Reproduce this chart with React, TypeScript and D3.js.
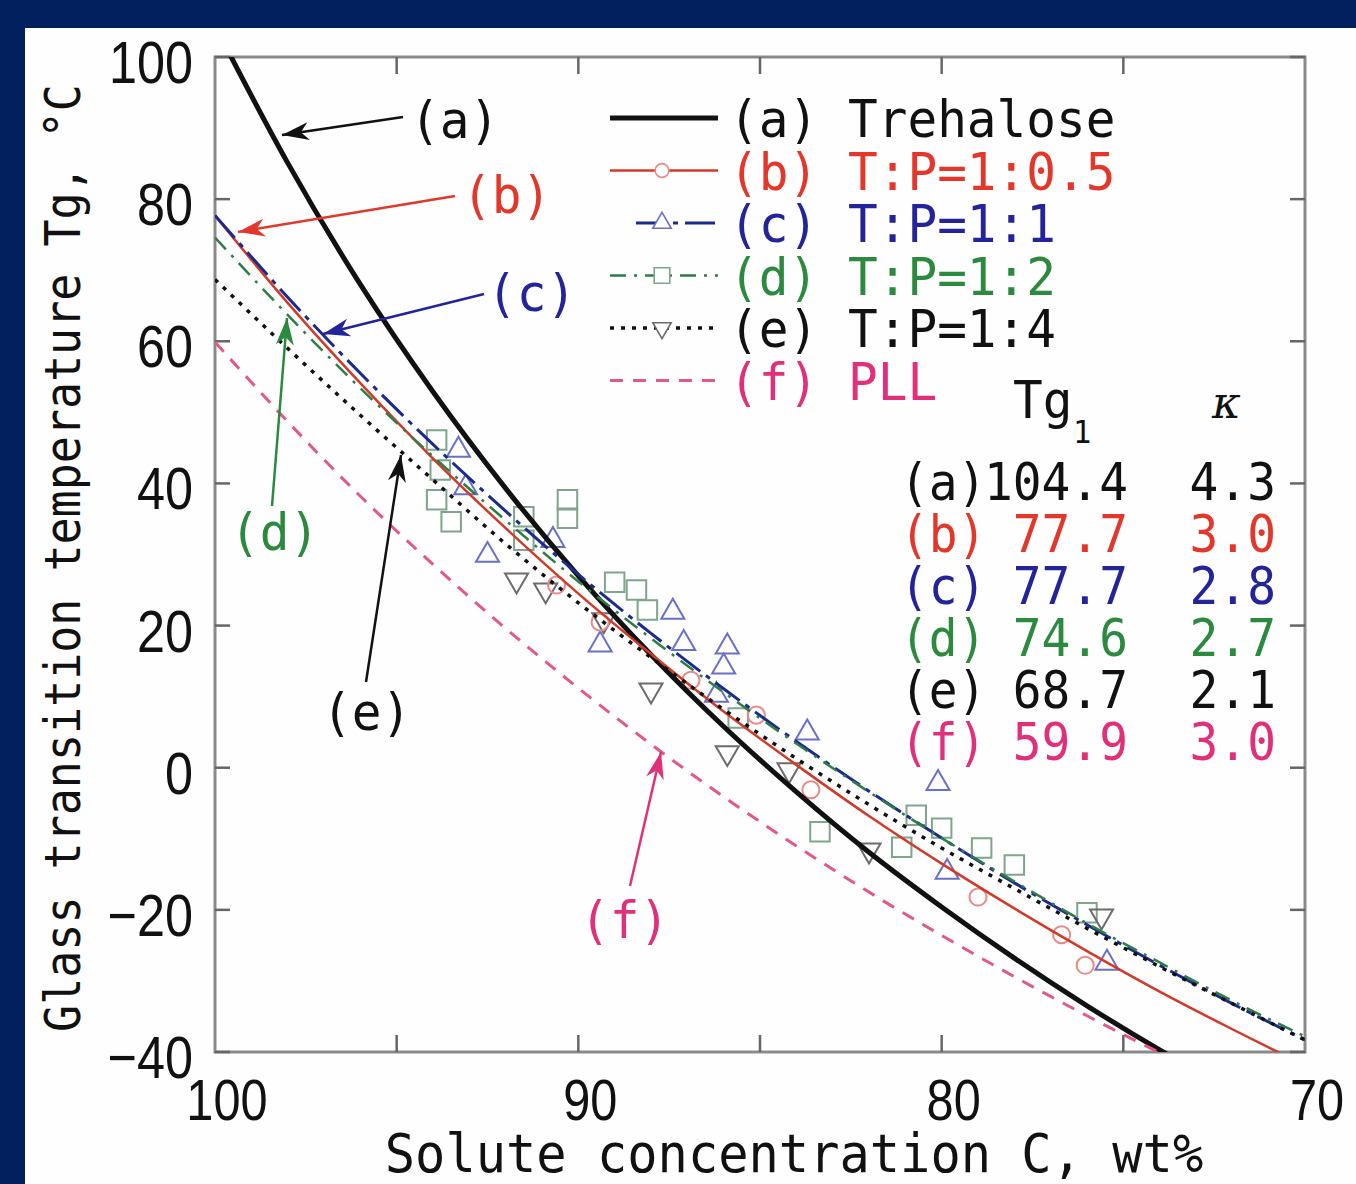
import React from 'react';
import * as d3 from 'd3';

// curve values (wt% solute -> Tg in °C)
const concentration = [100, 98, 96, 94, 92, 90, 88, 86, 84, 82, 80, 78, 76, 74, 72, 70];
const tgTrehalose = [104.4, 85.1, 68.0, 52.9, 39.3, 27.0, 15.9, 5.8, -3.4, -11.9, -19.6, -26.8, -33.5, -39.7, -45.4, -50.8];
const tgTP05 = [77.7, 65.4, 54.1, 43.5, 33.7, 24.5, 16.0, 7.9, 0.4, -6.8, -13.5, -19.8, -25.8, -31.5, -36.8, -41.9];
const tgTP1 = [77.7, 66.2, 55.5, 45.5, 36.1, 27.2, 18.9, 11.1, 3.7, -3.3, -9.9, -16.2, -22.1, -27.8, -33.2, -38.3];
const tgTP2 = [74.6, 63.7, 53.4, 43.8, 34.8, 26.2, 18.2, 10.6, 3.4, -3.4, -9.9, -16.0, -21.9, -27.4, -32.8, -37.8];
const tgTP4 = [68.7, 59.0, 49.6, 40.5, 31.5, 23.2, 15.5, 8.2, 1.3, -5.2, -11.3, -17.0, -22.6, -28.0, -33.2, -38.3];
const tgPLL = [59.9, 48.7, 38.2, 28.6, 19.6, 11.2, 3.3, -4.1, -11.0, -17.5, -23.6, -29.4, -34.9, -40.1, -45.0, -49.7];

// measured points [C, Tg]
const pointsTP05 = [[90.6, 25.7], [89.4, 20.5], [86.9, 12.3], [85.1, 7.4], [83.6, -3.1], [79.0, -18.2], [76.7, -23.5], [76.05, -27.8]];
const pointsTP1 = [[93.3, 44.7], [93.1, 39.4], [92.5, 29.9], [90.7, 32.0], [89.4, 17.3], [87.4, 21.9], [87.1, 17.5], [85.9, 17.0], [86.0, 14.2], [86.2, 10.2], [83.7, 4.9], [80.1, -2.2], [79.85, -14.7], [75.45, -27.5]];
const pointsTP2 = [[93.9, 46.1], [93.8, 41.9], [93.9, 37.7], [93.5, 34.6], [91.5, 35.3], [91.5, 32.0], [90.3, 37.7], [90.3, 35.1], [89.0, 26.1], [88.4, 25.0], [88.1, 22.2], [85.6, 7.0], [83.35, -9.0], [81.1, -11.2], [80.7, -6.7], [80.0, -8.5], [78.9, -11.3], [78.0, -13.7], [76.0, -20.4]];
const pointsTP4 = [[91.7, 26.4], [90.9, 25.0], [89.3, 20.8], [88.0, 10.9], [85.9, 2.1], [84.2, -0.3], [82.0, -11.6], [75.6, -20.9]];

const xTickLabels = [100, 90, 80, 70];
const xTickMarks = [95, 90, 85, 80, 75];
const yTickLabels = [100, 80, 60, 40, 20, 0, -20, -40];

const legendLabels = ['(a) Trehalose', '(b) T:P=1:0.5', '(c) T:P=1:1', '(d) T:P=1:2', '(e) T:P=1:4', '(f) PLL'];
const tableTg1 = ['104.4', '77.7', '77.7', '74.6', '68.7', '59.9'];
const tableKappa = ['4.3', '3.0', '2.8', '2.7', '2.1', '3.0'];

const W = 1356;
const H = 1184;
const plot = { left: 215, right: 1305, top: 57, bottom: 1052 };
const MONO = "'DejaVu Sans Mono', 'Liberation Mono', monospace";
const SANS = "'Liberation Sans', Arial, sans-serif";

const styles = [
  { color: '#111111', text: '#111111', width: 5, dash: null },
  { color: '#d23a28', text: '#e2372a', width: 2.5, dash: null },
  { color: '#1c2a8c', text: '#23249a', width: 3, dash: '30 7 5 7' },
  { color: '#2e7d46', text: '#2b8a3e', width: 2.5, dash: '16 8 3 8' },
  { color: '#111111', text: '#111111', width: 3.5, dash: '4 7' },
  { color: '#e2578c', text: '#e0307a', width: 3, dash: '13 10' },
];

function SText({ x, y, sx = 1, size, fill = '#111', family = MONO, anchor = 'start', children }: any) {
  return (
    <text transform={`translate(${x},${y}) scale(${sx},1)`} fontSize={size} fill={fill}
      fontFamily={family} textAnchor={anchor}>{children}</text>
  );
}

export default function App() {
  const x = d3.scaleLinear().domain([100, 70]).range([plot.left, plot.right]);
  const y = d3.scaleLinear().domain([100, -40]).range([plot.top, plot.bottom]);

  const lineGen = d3.line<number>()
    .x((_, i) => x(concentration[i]))
    .y(d => y(d))
    .curve(d3.curveMonotoneX);

  const curves = [tgTrehalose, tgTP05, tgTP1, tgTP2, tgTP4, tgPLL];

  const sq = d3.symbol().type(d3.symbolSquare).size(380)();
  const tri = d3.symbol().type(d3.symbolTriangle).size(230)();
  const circ = d3.symbol().type(d3.symbolCircle).size(230)();

  const markerSets = [
    { pts: pointsTP2, path: sq, stroke: '#7fa58d', rot: 0 },
    { pts: pointsTP1, path: tri, stroke: '#6a70c8', rot: 0 },
    { pts: pointsTP4, path: tri, stroke: '#6c6c6c', rot: 180 },
    { pts: pointsTP05, path: circ, stroke: '#e88a8a', rot: 0 },
  ];

  const legendRowY = (i: number) => 118 + i * 52.5;
  const legendMarkers = [null, circ, tri, sq, tri, null];
  const legendMarkerStroke = [null, '#e88a8a', '#6a70c8', '#7fa58d', '#6c6c6c', null];

  const arrows = [
    { label: '(a)', color: '#111111', tx: 410, ty: 138, from: [403, 117], to: [282, 135] },
    { label: '(b)', color: '#e2372a', tx: 462, ty: 213, from: [455, 196], to: [238, 232] },
    { label: '(c)', color: '#23249a', tx: 487, ty: 311, from: [484, 294], to: [323, 334] },
    { label: '(d)', color: '#2b8a3e', tx: 230, ty: 550, from: [272, 506], to: [287, 318] },
    { label: '(e)', color: '#111111', tx: 322, ty: 730, from: [366, 682], to: [401, 455] },
    { label: '(f)', color: '#e0307a', tx: 580, ty: 938, from: [630, 886], to: [661, 752] },
  ];

  return (
    <svg width={W} height={H} style={{ position: 'absolute', left: 0, top: 0, display: 'block' }}>
      <defs>
        <clipPath id="plotClip">
          <rect x={plot.left} y={plot.top} width={plot.right - plot.left} height={plot.bottom - plot.top} />
        </clipPath>
        {arrows.map((a, i) => (
          <marker key={i} id={`head${i}`} markerUnits="userSpaceOnUse" markerWidth={40} markerHeight={30}
            refX={0} refY={0} viewBox="-30 -15 40 30" orient="auto">
            <path d="M0,0 L-27,-9 L-19,0 L-27,9 Z" fill={a.color} />
          </marker>
        ))}
      </defs>
      <rect x={0} y={0} width={W} height={H} fill="#021f5e" />
      <rect x={25} y={28} width={W - 25} height={H - 28} fill="#fdfefd" />

      {/* frame and ticks */}
      <rect x={plot.left} y={plot.top} width={plot.right - plot.left} height={plot.bottom - plot.top}
        fill="none" stroke="#8a8a8a" strokeWidth={3} />
      {xTickMarks.map(t => (
        <g key={t} stroke="#666" strokeWidth={2.5}>
          <line x1={x(t)} x2={x(t)} y1={plot.bottom} y2={plot.bottom - 17} />
          <line x1={x(t)} x2={x(t)} y1={plot.top} y2={plot.top + 17} />
        </g>
      ))}
      {yTickLabels.map(t => (
        <g key={t} stroke="#666" strokeWidth={2.5}>
          <line x1={plot.left} x2={plot.left + 15} y1={y(t)} y2={y(t)} />
          <line x1={plot.right} x2={plot.right - 15} y1={y(t)} y2={y(t)} />
        </g>
      ))}

      {/* tick labels */}
      {yTickLabels.map(t => (
        <SText key={t} x={193} y={y(t) + 26} sx={0.84} size={60} family={SANS} anchor="end">
          {t < 0 ? `\u2212${-t}` : `${t}`}
        </SText>
      ))}
      {xTickLabels.map(t => (
        <SText key={t} x={x(t) + 12} y={1120} sx={0.84} size={58} family={SANS} anchor="middle">{t}</SText>
      ))}

      {/* axis titles */}
      <SText x={794} y={1172} sx={0.95} size={53} anchor="middle">Solute concentration C, wt%</SText>
      <text transform="translate(80,558) rotate(-90) scale(0.9,1)" fontSize={50} fontFamily={MONO}
        textAnchor="middle" fill="#111">Glass transition temperature Tg, °C</text>

      {/* measured points */}
      <g clipPath="url(#plotClip)">
        {markerSets.map((m, k) => m.pts.map((p, i) => (
          <path key={`${k}-${i}`} d={m.path as string} fill="none" stroke={m.stroke} strokeWidth={2}
            transform={`translate(${x(p[0])},${y(p[1])}) rotate(${m.rot})`} />
        )))}
      </g>

      {/* fitted curves */}
      <g clipPath="url(#plotClip)">
        {curves.map((c, i) => (
          <path key={i} d={lineGen(c) as string} fill="none" stroke={styles[i].color}
            strokeWidth={styles[i].width} strokeDasharray={styles[i].dash ?? undefined} />
        ))}
      </g>

      {/* legend */}
      {legendLabels.map((lab, i) => {
        const yy = legendRowY(i);
        const x0 = i === 2 ? 636 : 610;
        return (
          <g key={lab}>
            <line x1={x0} x2={718} y1={yy} y2={yy} stroke={styles[i].color}
              strokeWidth={styles[i].width} strokeDasharray={styles[i].dash ?? undefined} />
            {legendMarkers[i] && (
              <path d={legendMarkers[i] as string} fill="#fff" stroke={legendMarkerStroke[i] as string} strokeWidth={2}
                transform={`translate(662,${yy}) scale(0.8) rotate(${i === 4 ? 180 : 0})`} />
            )}
            <SText x={729} y={yy + 19} sx={0.95} size={52} fill={styles[i].text}>{lab}</SText>
          </g>
        );
      })}

      {/* parameter table */}
      <SText x={1013} y={418} sx={0.95} size={52}>Tg</SText>
      <SText x={1073} y={443} sx={0.95} size={32}>1</SText>
      <text x={1212} y={418} fontSize={44} fontStyle="italic" fontFamily="'DejaVu Serif', serif" fill="#111">κ</text>
      {tableTg1.map((v, i) => {
        const yy = 500 + i * 52;
        const col = styles[i].text;
        return (
          <g key={i}>
            <SText x={900} y={yy} sx={0.92} size={52} fill={col}>{legendLabels[i].slice(0, 3)}</SText>
            <SText x={1128} y={yy} sx={0.92} size={52} fill={col} anchor="end">{v}</SText>
            <SText x={1276} y={yy} sx={0.92} size={52} fill={col} anchor="end">{tableKappa[i]}</SText>
          </g>
        );
      })}

      {/* annotation arrows */}
      {arrows.map((a, i) => (
        <g key={a.label}>
          <line x1={a.from[0]} y1={a.from[1]} x2={a.to[0]} y2={a.to[1]} stroke={a.color} strokeWidth={2.5}
            markerEnd={`url(#head${i})`} />
          <SText x={a.tx} y={a.ty} sx={0.95} size={52} fill={a.color}>{a.label}</SText>
        </g>
      ))}
    </svg>
  );
}
